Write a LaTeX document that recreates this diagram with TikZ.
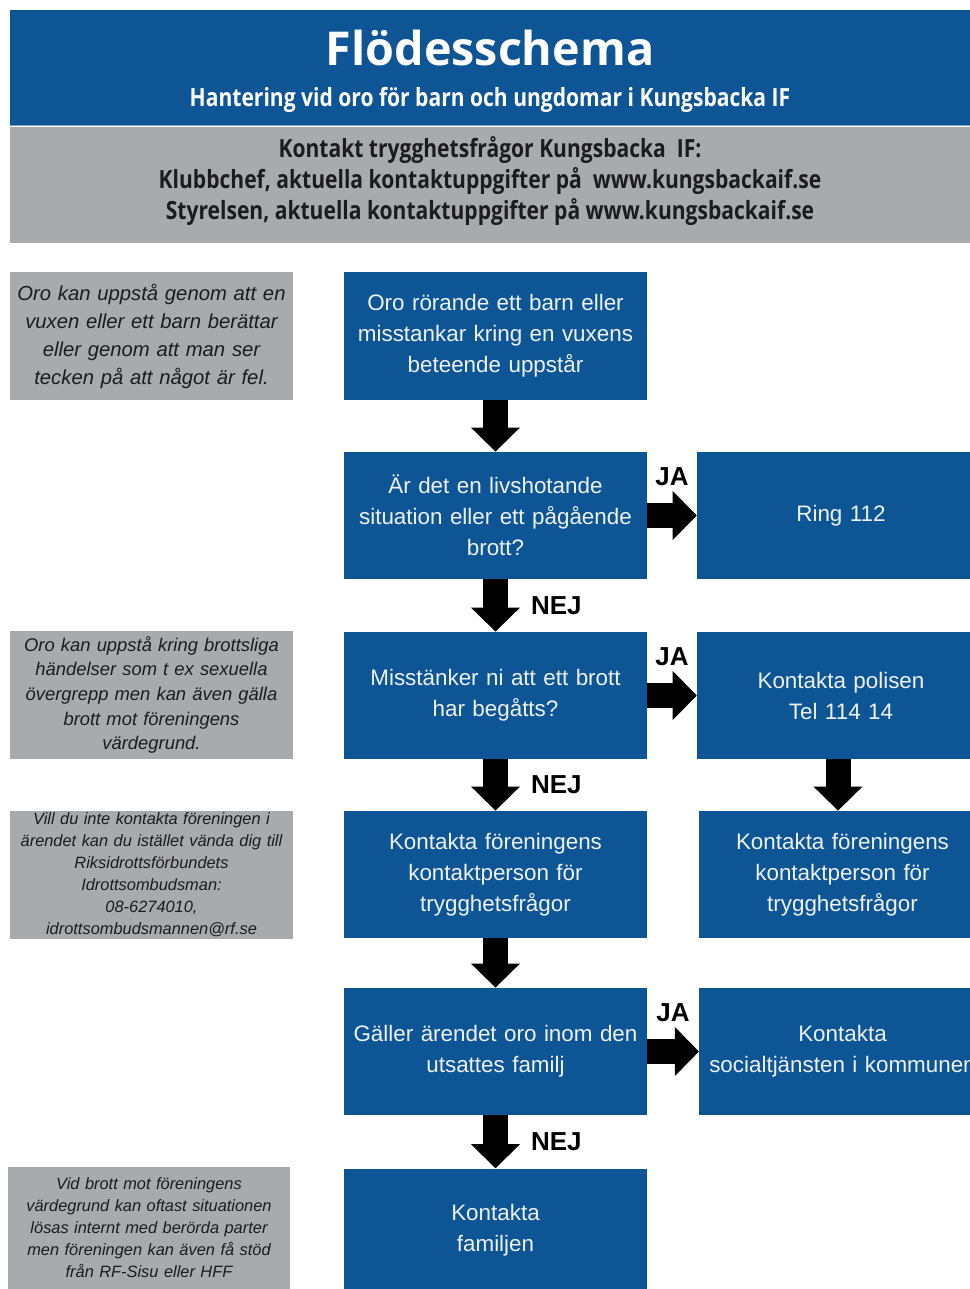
\documentclass[tikz,border=0pt]{standalone}
\usepackage{fontspec}
\setmainfont{Liberation Sans}
\newfontfamily\headfont[FakeStretch=0.84]{Open Sans}
\newfontfamily\titlefont{Open Sans}
\usetikzlibrary{arrows.meta}
\definecolor{kifblue}{RGB}{14,85,150}
\definecolor{kifgray}{RGB}{168,170,173}
\definecolor{kifline}{RGB}{122,160,198}
\definecolor{boxtext}{RGB}{238,242,248}
\definecolor{notetext}{RGB}{28,28,28}
\tikzset{
  flowbox/.style={fill=kifblue, text=boxtext, minimum width=227.25pt, minimum height=95.5pt, text width=218pt, align=center, inner sep=0pt, font=\fontsize{16.8}{23.25}\selectfont},
  rightbox/.style={flowbox, minimum width=215pt, text width=212pt},
  notebox/.style={fill=kifgray, text=notetext, minimum width=212.25pt, minimum height=96pt, text width=205pt, align=center, inner sep=0pt},
  flowarrow/.style={line width=18.75pt, -{Triangle[width=36.75pt,length=18pt,line width=0pt]}},
  answer/.style={font=\bfseries\fontsize{19.5}{19.5}\selectfont, inner sep=0pt},
}
\begin{document}
\begin{tikzpicture}[x=0.75pt, y=-0.75pt]
\fill[white] (0,0) rectangle (970,1289);
\useasboundingbox (0,0) rectangle (970,1289);
% header
\node[fill=kifblue, minimum width=731.25pt, minimum height=86.25pt, anchor=north west, inner sep=0pt] (banner) at (10,10) {};
\node[fill=kifgray, minimum width=731.25pt, minimum height=87pt, anchor=north west, inner sep=0pt] (contactband) at (10,127) {};
\draw[kifline, line width=1.2pt] (banner.south west) -- (banner.south east);
\node[text=white, font=\titlefont\bfseries\fontsize{35}{35}\selectfont] (title) at (490,48) {Flödesschema};
\node[text=white, font=\headfont\bfseries\fontsize{18.8}{18.8}\selectfont] (subtitle) at (490,100) {Hantering vid oro för barn och ungdomar i Kungsbacka IF};
\node[text=notetext, align=center, font=\headfont\bfseries\fontsize{18.8}{22.9}\selectfont] (contact) at (490,181) {Kontakt trygghetsfrågor Kungsbacka\ \ IF:\\
  Klubbchef, aktuella kontaktuppgifter på\ \ www.kungsbackaif.se\\
  Styrelsen, aktuella kontaktuppgifter på www.kungsbackaif.se};
% left notes
\node[notebox, font=\itshape\fontsize{15.2}{21}\selectfont] (note1) at (151.5,336) {Oro kan uppstå genom att en\\ vuxen eller ett barn berättar\\ eller genom att man ser\\ tecken på att något är fel.};
\node[notebox, font=\itshape\fontsize{13.8}{18.4}\selectfont] (note2) at (151.5,695) {Oro kan uppstå kring brottsliga\\ händelser som t ex sexuella\\ övergrepp men kan även gälla\\ brott mot föreningens\\ värdegrund.};
\node[notebox, font=\itshape\fontsize{12.3}{16.5}\selectfont] (note3) at (151.5,874.5) {Vill du inte kontakta föreningen i\\ ärendet kan du istället vända dig till\\ Riksidrottsförbundets\\ Idrottsombudsman:\\ 08-6274010,\\ idrottsombudsmannen@rf.se};
\node[notebox, minimum width=211.5pt, minimum height=91.5pt, font=\itshape\fontsize{12.3}{16.5}\selectfont] (note4) at (149,1228) {Vid brott mot föreningens\\ värdegrund kan oftast situationen\\ lösas internt med berörda parter\\ men föreningen kan även få stöd\\ från RF-Sisu eller HFF};
% main column
\node[flowbox] (b1) at (495.5,336) {Oro rörande ett barn eller\\ misstankar kring en vuxens\\ beteende uppstår};
\node[flowbox] (b2) at (495.5,515.5) {Är det en livshotande\\ situation eller ett pågående\\ brott?};
\node[flowbox] (b3) at (495.5,695.5) {Misstänker ni att ett brott\\ har begåtts?};
\node[flowbox] (b4) at (495.5,874.5) {Kontakta föreningens\\ kontaktperson för\\ trygghetsfrågor};
\node[flowbox] (b5) at (495.5,1051.5) {Gäller ärendet oro inom den\\ utsattes familj};
\node[flowbox, minimum height=92.25pt] (b6) at (495.5,1230) {Kontakta\\ familjen};
% right column
\node[rightbox, minimum width=216pt] (r1) at (841,515.5) {Ring 112};
\node[rightbox, minimum width=216pt] (r2) at (841,695.5) {Kontakta polisen\\ Tel 114 14};
\node[rightbox] (r3) at (842.5,874.5) {Kontakta föreningens\\ kontaktperson för\\ trygghetsfrågor};
\node[rightbox] (r4) at (842.5,1051.5) {Kontakta\\ socialtjänsten i kommunen};
% arrows
\draw[flowarrow] (b1) -- (b2);
\draw[flowarrow] (b2) -- node[answer, right=17.25pt]{NEJ} (b3);
\draw[flowarrow] (b3) -- node[answer, right=17.25pt]{NEJ} (b4);
\draw[flowarrow] (b4) -- (b5);
\draw[flowarrow] (b5) -- node[answer, right=17.25pt]{NEJ} (b6);
\draw[flowarrow] (b2) -- node[answer, above=12.75pt]{JA} (r1);
\draw[flowarrow] (b3) -- node[answer, above=12.75pt]{JA} (r2);
\draw[flowarrow] (b5) -- node[answer, above=12.75pt]{JA} (r4);
\draw[flowarrow] ([xshift=-2.25pt]r2.south) -- ([xshift=-2.25pt]r2.south |- r3.north);
\end{tikzpicture}
\end{document}
